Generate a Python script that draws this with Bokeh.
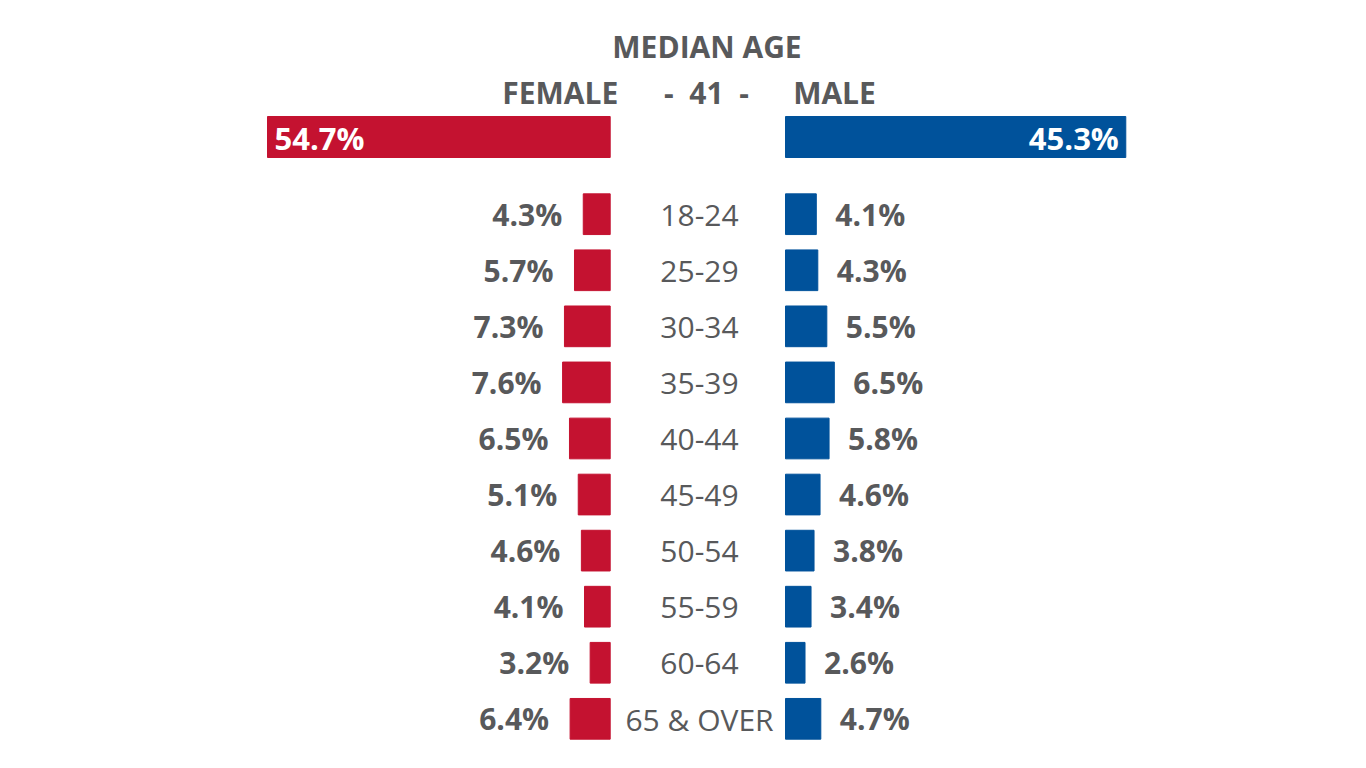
from bokeh.plotting import figure
from bokeh.models import Range1d, ColumnDataSource
from bokeh.core.properties import value
from bokeh.embed import file_html
from bokeh.resources import INLINE

# ---- data ----
age_groups = ["18-24", "25-29", "30-34", "35-39", "40-44", "45-49", "50-54", "55-59", "60-64", "65 & OVER"]
female_pct = [4.3, 5.7, 7.3, 7.6, 6.5, 5.1, 4.6, 4.1, 3.2, 6.4]
male_pct = [4.1, 4.3, 5.5, 6.5, 5.8, 4.6, 3.8, 3.4, 2.6, 4.7]
female_total = 54.7
male_total = 45.3
median_age = 41
title = "MEDIAN AGE"

RED = "#c41230"
BLUE = "#00529b"
GRAY = "#58595b"
FONT = value("Open Sans")

W, H = 1366, 768
p = figure(width=W, height=H, x_range=Range1d(0, W), y_range=Range1d(H, 0),
           output_backend="svg", toolbar_location=None, min_border=0,
           x_axis_type=None, y_axis_type=None)
p.grid.visible = False
p.outline_line_color = None
p.background_fill_color = "white"
p.border_fill_color = "white"

# side scales: female grows leftwards from x=609.7, male rightwards from x=785
f0, fk = 609.7, 6.265
m0, mk = 785.0, 7.512
p.extra_x_ranges = {
    "female": Range1d(start=f0 / fk, end=(f0 - W) / fk),
    "male": Range1d(start=-m0 / mk, end=(W - m0) / mk),
}
r0, rs = 213.7, 56.07
p.extra_y_ranges = {"rows": Range1d(start=(H - r0) / rs, end=-r0 / rs)}

idx = list(range(len(age_groups)))
src = ColumnDataSource(dict(i=idx, age=age_groups, f=female_pct, m=male_pct,
                            fl=[f"{v}%" for v in female_pct],
                            ml=[f"{v}%" for v in male_pct]))

bar_h = 40.7 / rs
p.hbar(y="i", left=0, right="f", height=bar_h, color=RED, source=src,
       x_range_name="female", y_range_name="rows")
p.hbar(y="i", left=0, right="m", height=bar_h, color=BLUE, source=src,
       x_range_name="male", y_range_name="rows")

p.text(x="f", y="i", text="fl", source=src, x_range_name="female", y_range_name="rows",
       x_offset=-21, y_offset=0, text_align="right", text_baseline="alphabetic",
       text_font=FONT, text_font_style="bold", text_font_size="30px", text_color=GRAY)
p.text(x="m", y="i", text="ml", source=src, x_range_name="male", y_range_name="rows",
       x_offset=19, y_offset=0, text_align="left", text_baseline="alphabetic",
       text_font=FONT, text_font_style="bold", text_font_size="30px", text_color=GRAY)
p.text(x=699, y="i", text="age", source=src, y_range_name="rows",
       y_offset=1, text_align="center", text_baseline="alphabetic",
       text_font=FONT, text_font_size="30px", text_color=GRAY)

# totals
p.hbar(y=[136.5], left=[0], right=[female_total], height=41, color=RED, x_range_name="female")
p.hbar(y=[136.5], left=[0], right=[male_total], height=41, color=BLUE, x_range_name="male")
p.text(x=[female_total], y=[137.3], text=[f"{female_total}%"], x_range_name="female",
       x_offset=7, text_align="left", text_baseline="alphabetic",
       text_font=FONT, text_font_style="bold", text_font_size="31px", text_color="white")
p.text(x=[male_total], y=[137.3], text=[f"{male_total}%"], x_range_name="male",
       x_offset=-7, text_align="right", text_baseline="alphabetic",
       text_font=FONT, text_font_style="bold", text_font_size="31px", text_color="white")

# headers
p.text(x=[706.5], y=[45.5], text=[title], text_align="center", text_baseline="alphabetic",
       text_font=FONT, text_font_style="bold", text_font_size="30px", text_color=GRAY)
p.text(x=[559.7, 706, 834], y=[92.3, 92.3, 92.3],
       text=["FEMALE", f"-\u00a0 {median_age} \u00a0-", "MALE"], text_align="center",
       text_baseline="alphabetic", text_font=FONT, text_font_style="bold",
       text_font_size="30px", text_color=GRAY)

open("out.html", "w").write(file_html(p, INLINE))
